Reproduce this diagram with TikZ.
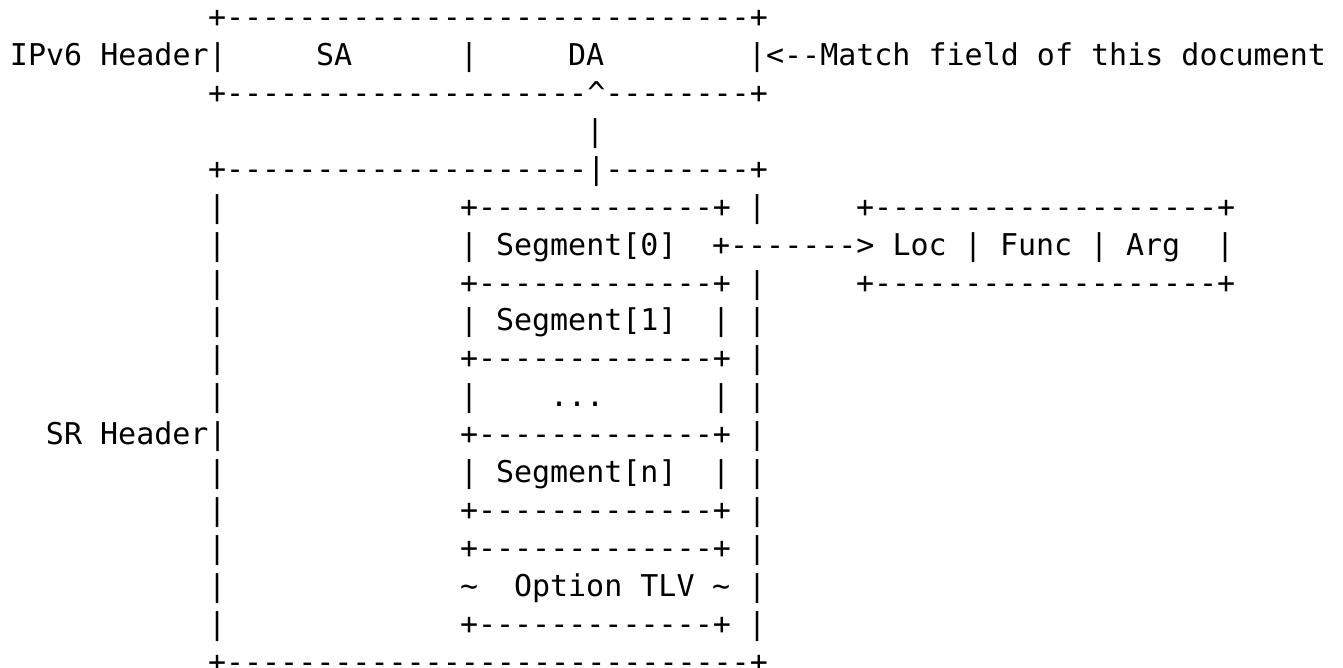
\documentclass[tikz,border=0pt]{standalone}
\usepackage{fontspec}
\setmonofont{DejaVu Sans Mono}
\newcommand\rep[2]{\foreach\k in {1,...,#1}{#2}}
\tikzset{
  ascii/.style={anchor=base west, inner sep=0pt, outer sep=0pt,
    font=\ttfamily\fontsize{15pt}{15pt}\selectfont, text=black},
}
% #1 name, #2 row, #3 column, #4 text
\newcommand\seg[4]{\node[ascii] (#1) at ({10+18*#3},{27.7+37.9*#2}) {#4};}
\newcommand\boxline{+\rep{13}{-}+}
\begin{document}
\begin{tikzpicture}[x=0.5pt,y=-0.5pt]
\useasboundingbox (0,0) rectangle (1343,668);
\frenchspacing
% IPv6 header box
\seg{iptop}{0}{11}{+\rep{29}{-}+}
\seg{iplabel}{1}{0}{IPv6 Header|}
\seg{sa}{1}{17}{SA}
\seg{ipmid}{1}{25}{|}
\seg{da}{1}{31}{DA}
\seg{match}{1}{41}{|<--Match field of this document}
\seg{ipbot}{2}{11}{+\rep{20}{-}\textasciicircum\rep{8}{-}+}
\seg{link}{3}{32}{|}
% SR header box
\seg{srtop}{4}{11}{+\rep{20}{-}|\rep{8}{-}+}
\seg{l5}{5}{11}{|}
\seg{s0top}{5}{25}{\boxline}
\seg{r5}{5}{41}{|}
\seg{loctop}{5}{47}{+\rep{19}{-}+}
\seg{l6}{6}{11}{|}
\seg{s0l}{6}{25}{|}
\seg{s0}{6}{27}{Segment[0]}
\seg{arrow}{6}{39}{+\rep{7}{-}> Loc}
\seg{sep1}{6}{53}{|}
\seg{func}{6}{55}{Func}
\seg{sep2}{6}{60}{|}
\seg{arg}{6}{62}{Arg}
\seg{locr}{6}{67}{|}
\seg{l7}{7}{11}{|}
\seg{s0bot}{7}{25}{\boxline}
\seg{r7}{7}{41}{|}
\seg{locbot}{7}{47}{+\rep{19}{-}+}
\seg{l8}{8}{11}{|}
\seg{s1l}{8}{25}{|}
\seg{s1}{8}{27}{Segment[1]}
\seg{s1r}{8}{39}{|}
\seg{r8}{8}{41}{|}
\seg{l9}{9}{11}{|}
\seg{s1bot}{9}{25}{\boxline}
\seg{r9}{9}{41}{|}
\seg{l10}{10}{11}{|}
\seg{dl}{10}{25}{|}
\seg{dots}{10}{30}{...}
\seg{dr}{10}{39}{|}
\seg{r10}{10}{41}{|}
\seg{srlabel}{11}{2}{SR Header|}
\seg{dbot}{11}{25}{\boxline}
\seg{r11}{11}{41}{|}
\seg{l12}{12}{11}{|}
\seg{snl}{12}{25}{|}
\seg{sn}{12}{27}{Segment[n]}
\seg{snr}{12}{39}{|}
\seg{r12}{12}{41}{|}
\seg{l13}{13}{11}{|}
\seg{snbot}{13}{25}{\boxline}
\seg{r13}{13}{41}{|}
\seg{l14}{14}{11}{|}
\seg{tlvtop}{14}{25}{\boxline}
\seg{r14}{14}{41}{|}
\seg{l15}{15}{11}{|}
\seg{tlvl}{15}{25}{\textasciitilde}
\seg{tlv}{15}{28}{Option TLV}
\seg{tlvr}{15}{39}{\textasciitilde}
\seg{r15}{15}{41}{|}
\seg{l16}{16}{11}{|}
\seg{tlvbot}{16}{25}{\boxline}
\seg{r16}{16}{41}{|}
\seg{srbot}{17}{11}{+\rep{29}{-}+}
\end{tikzpicture}
\end{document}
